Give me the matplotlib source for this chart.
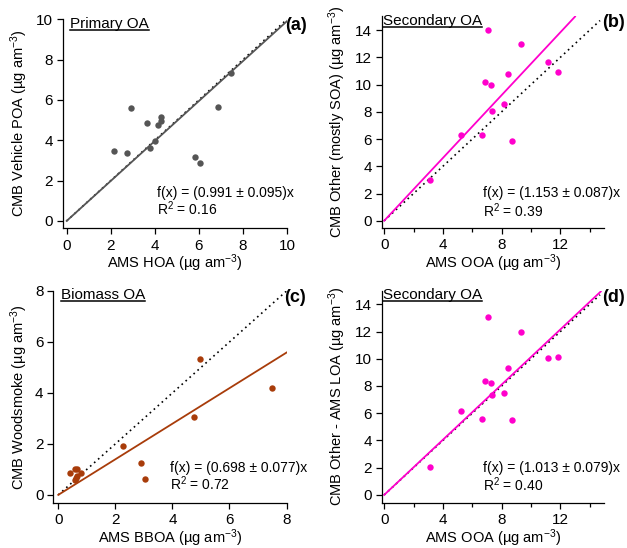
import matplotlib
matplotlib.use("Agg")
import matplotlib.pyplot as plt
from matplotlib.lines import Line2D
from matplotlib.ticker import MultipleLocator

plt.rcParams['font.family'] = ['Liberation Sans', 'DejaVu Sans']
plt.rcParams['mathtext.fontset'] = 'custom'
plt.rcParams['mathtext.rm'] = 'Liberation Sans'
plt.rcParams['mathtext.it'] = 'Liberation Sans:italic'
plt.rcParams['mathtext.bf'] = 'Liberation Sans:bold'

# (a) primary OA
hoa_x = [2.14, 2.73, 2.92, 3.64, 3.77, 4.01, 4.12, 4.30, 4.30, 5.82, 6.03, 6.85, 7.45]
vpoa_y = [3.47, 3.35, 5.62, 4.85, 3.60, 3.97, 4.77, 5.13, 4.97, 3.17, 2.88, 5.67, 7.35]
# (b) secondary OA
ooa_x = [3.12, 5.25, 6.68, 6.86, 7.04, 7.25, 7.34, 8.15, 8.40, 8.72, 9.33, 11.14, 11.87]
other_y = [3.00, 6.32, 6.32, 10.20, 14.03, 9.96, 8.05, 8.54, 10.76, 5.88, 12.94, 11.69, 10.89]
# (c) biomass OA
bboa_x = [0.40, 0.57, 0.64, 0.60, 0.64, 0.80, 0.62, 2.26, 2.90, 3.05, 4.74, 4.95, 7.50]
wood_y = [0.84, 1.02, 1.02, 0.60, 0.75, 0.84, 0.68, 1.92, 1.27, 0.63, 3.05, 5.33, 4.21]
# (d) secondary OA, LOA removed
ooa_x_d = [3.12, 5.25, 6.68, 6.86, 7.04, 7.25, 7.34, 8.15, 8.40, 8.72, 9.33, 11.14, 11.87]
other_loa_y = [2.04, 6.18, 5.57, 8.36, 13.09, 8.19, 7.35, 7.48, 9.34, 5.49, 11.99, 10.03, 10.10]

slopes = [0.991, 1.153, 0.698, 1.013]
fit_txt = ['f(x) = (0.991 ± 0.095)x', 'f(x) = (1.153 ± 0.087)x',
           'f(x) = (0.698 ± 0.077)x', 'f(x) = (1.013 ± 0.079)x']
r2_txt = ['0.16', '0.39', '0.72', '0.40']
fit_range = [[0, 10], [0, 13.0], [0, 8], [0, 14.75]]
one_range = [[0, 10], [0, 14.7], [0, 8], [0, 14.7]]

GREY = '#555555'
MAG = '#ff00cc'
BROWN = '#a83c0a'

fig = plt.figure(figsize=(6.27, 5.48), dpi=100)

# axes rectangles (fig fractions)
rects = [[0.100, 0.584, 0.358, 0.381],
         [0.609, 0.5845, 0.355, 0.3855],
         [0.085, 0.083, 0.372, 0.386],
         [0.609, 0.083, 0.355, 0.3865]]

panels = [
    dict(x=hoa_x, y=vpoa_y, c=GREY, xl=(-0.18, 10), yl=(-0.35, 10), xmaj=2, xmin=None, ymaj=2,
         xlabel='AMS HOA', ylabel='CMB Vehicle POA', title='Primary OA', tag='(a)',
         tx=0.033, tagx=1.089, fx=0.419, fy=0.15, ry=0.062, ylx=-0.146),
    dict(x=ooa_x, y=other_y, c=MAG, xl=(-0.16, 15), yl=(-0.51, 15), xmaj=4, xmin=2, ymaj=2,
         xlabel='AMS OOA', ylabel='CMB Other (mostly SOA)', title='Secondary OA', tag='(b)',
         tx=0.005, tagx=1.093, fx=0.456, fy=0.147, ry=0.05, ylx=-0.151),
    dict(x=bboa_x, y=wood_y, c=BROWN, xl=(-0.175, 8), yl=(-0.3, 8), xmaj=2, xmin=None, ymaj=2,
         xlabel='AMS BBOA', ylabel='CMB Woodsmoke', title='Biomass OA', tag='(c)',
         tx=0.033, tagx=1.083, fx=0.50, fy=0.146, ry=0.06, ylx=-0.10),
    dict(x=ooa_x_d, y=other_loa_y, c=MAG, xl=(-0.16, 15), yl=(-0.56, 15), xmaj=4, xmin=2, ymaj=2,
         xlabel='AMS OOA', ylabel='CMB Other - AMS LOA', title='Secondary OA', tag='(d)',
         tx=0.005, tagx=1.093, fx=0.456, fy=0.146, ry=0.054, ylx=-0.151),
]

titles = []
for i, p in enumerate(panels):
    ax = fig.add_axes(rects[i])
    ax.plot(one_range[i], one_range[i], color='black', lw=1.2, ls=(0, (1, 2.2)), zorder=1)
    fx0, fx1 = fit_range[i]
    ax.plot([fx0, fx1], [slopes[i] * fx0, slopes[i] * fx1], color=p['c'], lw=1.3, zorder=2)
    ax.plot(p['x'], p['y'], 'o', color=p['c'], ms=4.6, mew=0, zorder=3)

    ax.set_xlim(*p['xl'])
    ax.set_ylim(*p['yl'])
    ax.xaxis.set_major_locator(MultipleLocator(p['xmaj']))
    if p['xmin']:
        ax.xaxis.set_minor_locator(MultipleLocator(p['xmin']))
    ax.yaxis.set_major_locator(MultipleLocator(p['ymaj']))
    for s in ['top', 'right']:
        ax.spines[s].set_visible(False)
    for s in ['left', 'bottom']:
        ax.spines[s].set_linewidth(0.9)
    ax.tick_params(which='major', direction='out', length=4.5, width=0.9, labelsize=11, pad=2.5)
    ax.tick_params(axis='x', which='major', pad=3.2)
    ax.tick_params(which='minor', direction='out', length=3, width=0.9)
    ax.patch.set_visible(False)

    ax.set_xlabel(p['xlabel'] + r' (µg am$^{-3}$)', fontsize=10.5)
    ax.set_ylabel(p['ylabel'] + r' (µg am$^{-3}$)', fontsize=10.5)
    ax.xaxis.set_label_coords(0.5, -0.118)
    ax.yaxis.set_label_coords(p['ylx'], 0.5)

    t = ax.text(p['tx'], 1.012, p['title'], transform=ax.transAxes, fontsize=11,
                ha='left', va='top')
    titles.append(t)
    ax.text(p['tagx'], 1.01, p['tag'], transform=ax.transAxes, fontsize=13,
            fontweight='bold', ha='right', va='top')
    ax.text(p['fx'], p['fy'], fit_txt[i], transform=ax.transAxes, fontsize=10,
            ha='left', va='baseline')
    ax.text(p['fx'], p['ry'], 'R$^2$ = ' + r2_txt[i], transform=ax.transAxes,
            fontsize=10, ha='left', va='baseline')

# underline the panel titles
fig.canvas.draw()
inv = fig.transFigure.inverted()
for t in titles:
    bb = t.get_window_extent()
    (x0, y0), (x1, _) = inv.transform([[bb.x0, bb.y0 + 1.0], [bb.x1, bb.y0]])
    fig.add_artist(Line2D([x0, x1], [y0, y0], color='black', lw=1.1,
                          transform=fig.transFigure))

fig.savefig('out.png', dpi=100)
